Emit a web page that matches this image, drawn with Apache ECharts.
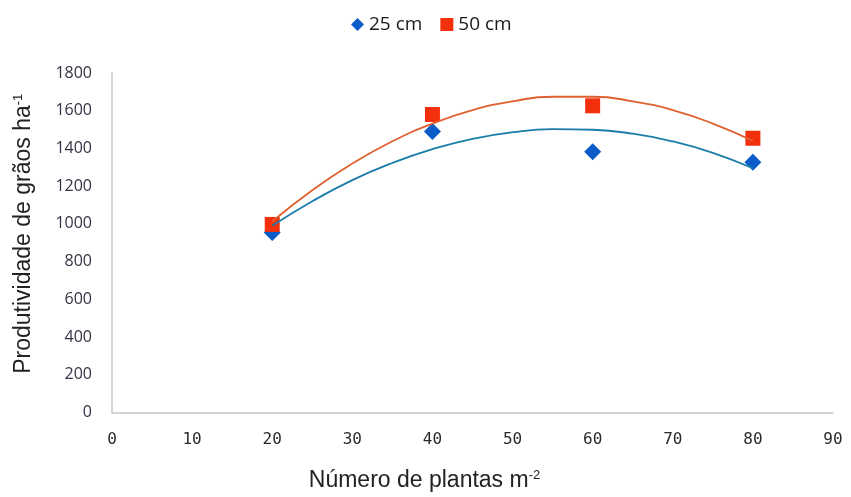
<!DOCTYPE html>
<html>
<head>
<meta charset="utf-8">
<script src="https://cdn.jsdelivr.net/npm/echarts@6/dist/echarts.min.js"></script>
<style>html,body{margin:0;padding:0;background:#fff}#c{width:851px;height:497px}</style>
</head>
<body>
<div id="c"></div>
<script>
// Observed points
var plantDensity = [20, 40, 60, 80];
var yield25 = [955, 1490, 1382, 1327];
var yield50 = [997, 1580, 1626, 1454];
// Trend curves
var trendX = [20, 25, 30, 35, 40, 45, 50, 55, 60, 65, 70, 75, 80];
var trend25 = [990, 1120, 1232, 1323, 1396, 1451, 1486, 1502, 1499, 1478, 1437, 1377, 1295];
var trend50 = [1013, 1178, 1320, 1438, 1532, 1603, 1650, 1674, 1674, 1650, 1603, 1532, 1440];
var xTicks = [0, 10, 20, 30, 40, 50, 60, 70, 80, 90];
var yTicks = [0, 200, 400, 600, 800, 1000, 1200, 1400, 1600, 1800];

function pairs(xs, ys) { return xs.map(function (x, i) { return [x, ys[i]]; }); }

var chart = echarts.init(document.getElementById('c'));
chart.setOption({
  animation: false,
  backgroundColor: '#ffffff',
  grid: { left: 112, right: 18, top: 73, bottom: 81, containLabel: false },
  legend: {
    top: 10, left: 346,
    itemWidth: 13, itemHeight: 13, itemGap: 18,
    textStyle: { fontFamily: 'Open Sans', fontSize: 19, color: '#1a1a1a' },
    data: [
      { name: '25 cm', icon: 'diamond', itemStyle: { color: '#0b5cc8' } },
      { name: '50 cm', icon: 'rect', itemStyle: { color: '#f2300c' } }
    ]
  },
  xAxis: {
    type: 'value', min: xTicks[0], max: xTicks[xTicks.length - 1], interval: 10,
    axisLine: { show: true, lineStyle: { color: '#c8c8c8', width: 1.5 } },
    axisTick: { show: false },
    splitLine: { show: false },
    axisLabel: { margin: 19, fontFamily: 'DejaVu Sans Mono', fontSize: 16, color: '#2a2a2a' },
    name: '{a|Número de plantas m}{s|-2}',
    nameLocation: 'middle', nameGap: 56,
    nameTextStyle: {
      padding: [0, 96, 0, 0],
      rich: {
        a: { fontFamily: 'Liberation Sans', fontSize: 23, color: '#222' },
        s: { fontFamily: 'Liberation Sans', fontSize: 13, color: '#222', verticalAlign: 'top', padding: [0, 0, 11, 0] }
      }
    }
  },
  yAxis: {
    type: 'value', min: yTicks[0], max: yTicks[yTicks.length - 1], interval: 200,
    axisLine: { show: true, lineStyle: { color: '#c8c8c8', width: 1.5 } },
    axisTick: { show: false },
    splitLine: { show: false },
    axisLabel: { margin: 20, fontFamily: 'Open Sans', fontSize: 16, color: '#333344', formatter: function (v) { return String(v); } },
    name: '{a|Produtividade de grãos ha}{s|-1}',
    nameLocation: 'middle', nameGap: 76, nameRotate: 90,
    nameTextStyle: {
      padding: [0, 0, 0, 18],
      rich: {
        a: { fontFamily: 'Liberation Sans', fontSize: 23, color: '#222' },
        s: { fontFamily: 'Liberation Sans', fontSize: 13, color: '#222', verticalAlign: 'top', padding: [0, 0, 11, 0] }
      }
    }
  },
  series: [
    {
      name: '25 cm', type: 'scatter', symbol: 'diamond', symbolSize: 17, z: 2,
      itemStyle: { color: '#0b5cc8', opacity: 1 },
      data: pairs(plantDensity, yield25)
    },
    {
      name: '50 cm', type: 'scatter', symbol: 'rect', symbolSize: 15, z: 3,
      itemStyle: { color: '#f2300c', opacity: 1 },
      data: pairs(plantDensity, yield50)
    },
    {
      name: 'trend25', type: 'line', smooth: true, showSymbol: false, z: 4,
      lineStyle: { color: '#1a7ca8', width: 1.8 },
      data: pairs(trendX, trend25)
    },
    {
      name: 'trend50', type: 'line', smooth: true, showSymbol: false, z: 4,
      lineStyle: { color: '#e0602f', width: 1.8 },
      data: pairs(trendX, trend50)
    }
  ]
});
</script>
</body>
</html>
